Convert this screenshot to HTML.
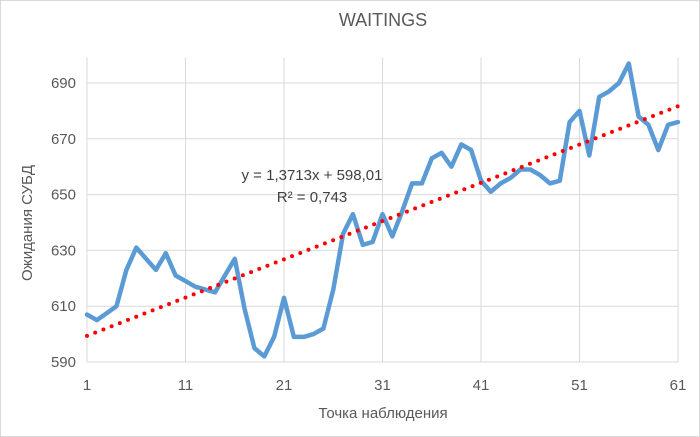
<!DOCTYPE html>
<html><head><meta charset="utf-8"><style>
html,body{margin:0;padding:0;background:#fff}
svg{display:block;font-family:"Liberation Sans","DejaVu Sans",sans-serif}
</style></head><body>
<svg id="s" width="700" height="437" viewBox="0 0 700 437" xmlns="http://www.w3.org/2000/svg">
<rect x="0.5" y="0.5" width="699" height="436" fill="#fff" stroke="#d9d9d9"/>
<text x="383" y="26" font-size="18" fill="#595959" text-anchor="middle">WAITINGS</text>
<g id="grid" stroke="#d9d9d9" stroke-width="1"></g>
<g id="lbl" font-size="15" fill="#595959"></g>
<text x="383" y="418" font-size="15" fill="#595959" text-anchor="middle">Точка наблюдения</text>
<text transform="translate(32,223) rotate(-90)" font-size="15" fill="#595959" text-anchor="middle">Ожидания СУБД</text>
<polyline id="data" fill="none" stroke="#5b9bd5" stroke-width="4.5" stroke-linejoin="round" stroke-linecap="round"/>
<line id="trend" stroke="#ff0000" stroke-width="4" stroke-linecap="round" stroke-dasharray="0 8.8"/>
<text x="312" y="180" font-size="15" fill="#404040" text-anchor="middle">y = 1,3713x + 598,01</text>
<text x="312" y="202" font-size="15" fill="#404040" text-anchor="middle">R² = 0,743</text>
</svg>
<script>
var X=function(i){return 87+(i-1)*(591/60)};
var Y=function(v){return 362-(v-590)*(279/100)};
var ns="http://www.w3.org/2000/svg",g=document.getElementById('grid'),l=document.getElementById('lbl');
function el(p,t,a,txt){var e=document.createElementNS(ns,t);for(var k in a)e.setAttribute(k,a[k]);if(txt)e.textContent=txt;p.appendChild(e);}
for(var v=590;v<=690;v+=20){el(g,'line',{x1:87,x2:678,y1:Y(v),y2:Y(v)});el(l,'text',{x:76,y:Y(v)+5,'text-anchor':'end'},String(v));}
for(var i=1;i<=61;i+=10){el(g,'line',{x1:X(i),x2:X(i),y1:Y(697)-6,y2:Y(590)});el(l,'text',{x:X(i),y:390,'text-anchor':'middle'},String(i));}
var d=[607,605,607.5,610,623,631,627,623,629,621,619,617,616,615,621,627,609,595,592,599,613,599,599,600,602,616,636,643,632,633,643,635,644,654,654,663,665,660,668,666,655,651,654,656,659,659,657,654,655,676,680,664,685,687,690,697,678,675,666,675,676];
document.getElementById('data').setAttribute('points',d.map(function(v,i){return X(i+1).toFixed(1)+','+Y(v).toFixed(1)}).join(' '));
var t=document.getElementById('trend');
t.setAttribute('x1',X(1));t.setAttribute('y1',Y(1.3713+598.01));t.setAttribute('x2',X(61));t.setAttribute('y2',Y(1.3713*61+598.01));
</script>
</body></html>
